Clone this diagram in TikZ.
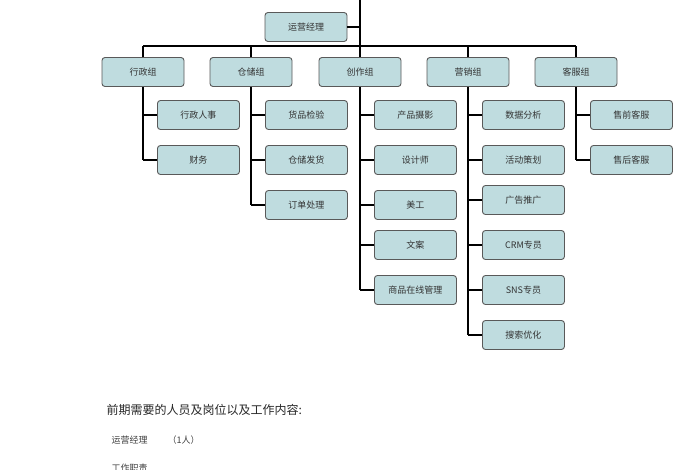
\documentclass[tikz,border=0pt]{standalone}
\usepackage{fontspec}
\newfontfamily\cjk{Noto Sans CJK SC}
\begin{document}
\begin{tikzpicture}[x=1pt,y=-1pt,
 bx/.style={draw=black!65,line width=0.9pt,fill=boxc,rounded corners=3pt,minimum width=82pt,minimum height=29pt,font=\cjk\fontsize{9}{10}\selectfont,text=black!80},
 ln/.style={line width=1.6pt,black}]
\definecolor{boxc}{HTML}{BFDCDF}
\useasboundingbox (0,0) rectangle (700,470);
\node[bx] (top) at (306,27) {运营经理};
\coordinate (t0) at (360,0);
\coordinate (bus) at (360,46);
\draw[ln] (t0) -- (bus);
\draw[ln] (top.east) -- (top.east -| bus);
\foreach \n/\x/\t in {g1/143/行政组,g2/251/仓储组,g3/360/创作组,g4/468/营销组,g5/576/客服组}{
 \node[bx] (\n) at (\x,72) {\t};
 \draw[ln] (\n.north) -- (\n.north |- bus);
}
\draw[ln] (g1.north |- bus) -- (g5.north |- bus);
\newcommand\kids[3]{%
 \foreach \t/\y [count=\i] in {#3}{
  \node[bx,anchor=west] (#1c\i) at ([xshift=14pt]#1.south |- 0,\y) {\t};
  \draw[ln] (#1c\i.west) -- (#1c\i.west -| #1.south);
  \xdef\last{\y}
 }
 \draw[ln] (#1.south) -- (#1.south |- 0,\last);
}
\kids{g1}{}{行政人事/115,财务/160}
\kids{g2}{}{货品检验/115,仓储发货/160,订单处理/205}
\kids{g3}{}{产品摄影/115,设计师/160,美工/205,文案/245,商品在线管理/290}
\kids{g4}{}{数据分析/115,活动策划/160,广告推广/200,CRM专员/245,SNS专员/290,搜索优化/335}
\kids{g5}{}{售前客服/115,售后客服/160}
\node[anchor=west,font=\cjk\fontsize{12}{14}\selectfont,text=black!85] (h) at (103,410) {前期需要的人员及岗位以及工作内容:};
\node[anchor=west,font=\cjk\fontsize{9}{10}\selectfont,text=black!75] (r) at (108,440) {运营经理\hspace{20pt}（1人）};
\node[anchor=west,font=\cjk\fontsize{9}{10}\selectfont,text=black!75] (w) at (108,468) {工作职责};
\end{tikzpicture}
\end{document}
